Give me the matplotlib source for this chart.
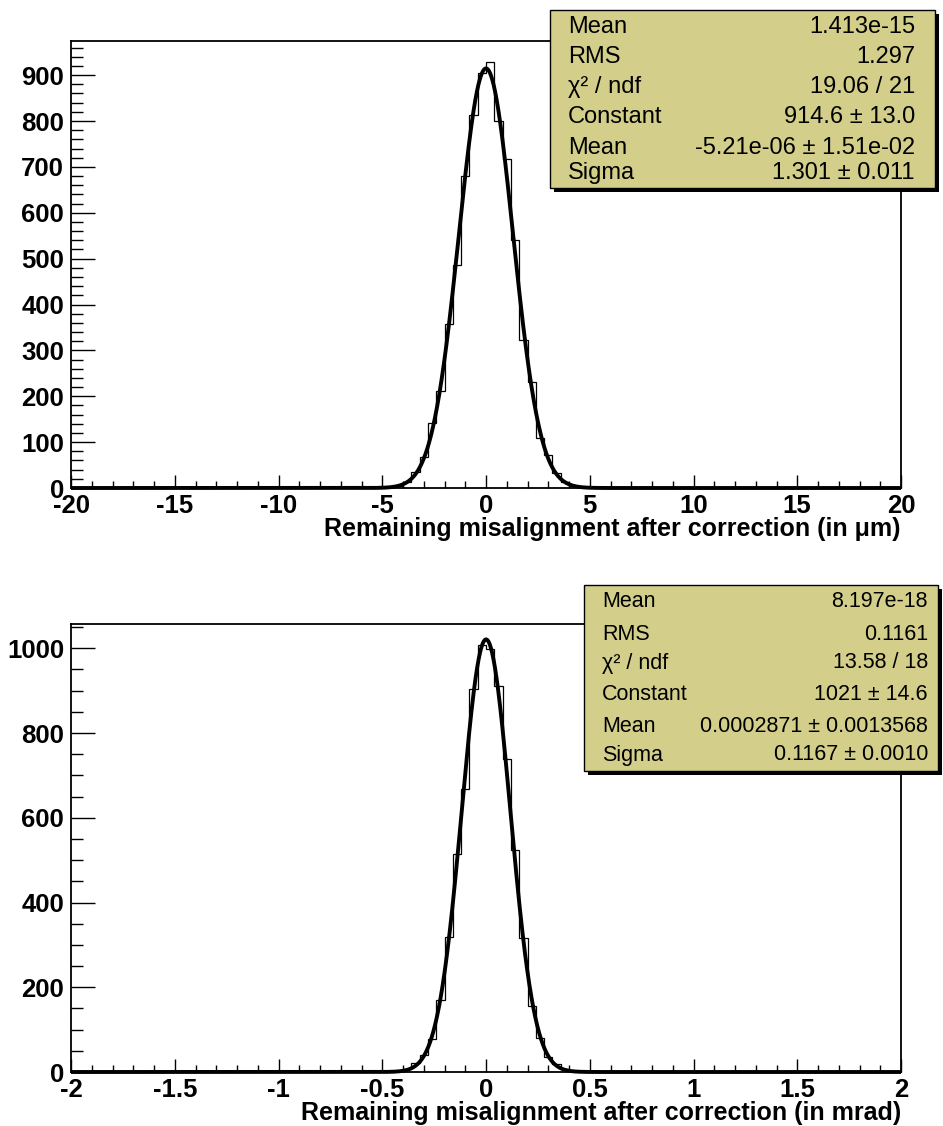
import matplotlib
matplotlib.use("Agg")
import matplotlib.pyplot as plt
import numpy as np
from matplotlib.patches import Rectangle
from matplotlib.ticker import MultipleLocator, FuncFormatter

plt.rcParams['font.family'] = ['Liberation Sans', 'DejaVu Sans']
plt.rcParams['axes.unicode_minus'] = False

# top histogram: 100 bins on [-20, 20], non-empty part starts at -4.8
top_range = (-20, 20)
top_first_edge = -4.8
top_counts = [1, 4, 14, 35, 67, 141, 211, 358, 486, 680, 813, 905,
              928, 800, 717, 540, 322, 231, 108, 72, 33, 13, 5, 2, 1]
top_fit = (914.6, -5.21e-06, 1.301)
top_stats = [("Mean", "1.413e-15"), ("RMS", "1.297"), ("χ² / ndf", "19.06 / 21"),
             ("Constant", "914.6 ± 13.0"), ("Mean", "-5.21e-06 ± 1.51e-02"),
             ("Sigma", "1.301 ± 0.011")]
top_xlabel = "Remaining misalignment after correction (in μm)"

# bottom histogram: 100 bins on [-2, 2], non-empty part starts at -0.48
bot_range = (-2, 2)
bot_first_edge = -0.48
bot_counts = [1, 3, 8, 21, 40, 78, 170, 319, 515, 669, 903, 1007,
              998, 911, 738, 525, 317, 156, 80, 36, 18, 7, 3, 1]
bot_fit = (1021, 0.0002871, 0.1167)
bot_stats = [("Mean", "8.197e-18"), ("RMS", "0.1161"), ("χ² / ndf", "13.58 / 18"),
             ("Constant", "1021 ± 14.6"), ("Mean", "0.0002871 ± 0.0013568"),
             ("Sigma", "0.1167 ± 0.0010")]
bot_xlabel = "Remaining misalignment after correction (in mrad)"

W, H = 943, 1126
BOXCOL = '#d3cf8b'

fig = plt.figure(figsize=(W / 100, H / 100), dpi=100)


def fx(px):
    return px / W


def fy(py):
    return 1 - py / H


def draw_panel(rect, rng, first_edge, counts, fit, xlabel, xmaj, xmin, ymaj, ymin):
    ax = fig.add_axes(rect)
    edges = np.linspace(rng[0], rng[1], 101)
    width = edges[1] - edges[0]
    full = np.zeros(100)
    i0 = int(round((first_edge - rng[0]) / width))
    full[i0:i0 + len(counts)] = counts
    ax.stairs(full, edges, color='black', lw=0.9)
    c, m, s = fit
    xs = np.linspace(rng[0], rng[1], 3000)
    ax.plot(xs, c * np.exp(-0.5 * ((xs - m) / s) ** 2), color='black', lw=2.8,
            solid_capstyle='butt', clip_on=False)
    ax.set_xlim(rng)
    ax.set_ylim(0, 1.05 * max(counts))
    ax.xaxis.set_major_locator(MultipleLocator(xmaj))
    ax.xaxis.set_minor_locator(MultipleLocator(xmin))
    ax.yaxis.set_major_locator(MultipleLocator(ymaj))
    ax.yaxis.set_minor_locator(MultipleLocator(ymin))
    ax.xaxis.set_major_formatter(FuncFormatter(lambda v, p: '%g' % v))
    ax.tick_params(axis='x', which='major', direction='in', length=9.5, width=1,
                   labelsize=18.5, pad=4.5)
    ax.tick_params(axis='x', which='minor', direction='in', length=4.7, width=1)
    ax.tick_params(axis='y', which='major', direction='in', length=17, width=1,
                   labelsize=18.5, pad=5)
    ax.tick_params(axis='y', which='minor', direction='in', length=8.5, width=1)
    for lab in ax.get_xticklabels() + ax.get_yticklabels():
        lab.set_fontweight('bold')
    for sp in ax.spines.values():
        sp.set_linewidth(1.3)
    ax.set_xlabel(xlabel, loc='right', fontsize=18, fontweight='bold', labelpad=-1)
    return ax


def draw_stats(x0, y0, x1, y1, rows, lx, rx, ys, fs):
    shadow = Rectangle((fx(x0 + 4), fy(y1 + 4)), fx(x1 - x0), (y1 - y0) / H,
                       transform=fig.transFigure, facecolor='black', edgecolor='none', zorder=5)
    box = Rectangle((fx(x0), fy(y1)), fx(x1 - x0), (y1 - y0) / H,
                    transform=fig.transFigure, facecolor=BOXCOL, edgecolor='black',
                    lw=1, zorder=6)
    fig.add_artist(shadow)
    fig.add_artist(box)
    for (lab, val), yy in zip(rows, ys):
        fig.text(fx(lx), fy(yy), lab, fontsize=fs, ha='left', va='center', zorder=7)
        fig.text(fx(rx), fy(yy), val, fontsize=fs, ha='right', va='center', zorder=7)


draw_panel([fx(71), fy(488), fx(901 - 71), (488 - 41) / H], top_range, top_first_edge,
           top_counts, top_fit, top_xlabel, 5, 1, 100, 20)
draw_panel([fx(71), fy(1072), fx(901 - 71), (1072 - 624) / H], bot_range, bot_first_edge,
           bot_counts, bot_fit, bot_xlabel, 0.5, 0.1, 200, 50)

draw_stats(550, 10, 935, 188, top_stats, 568, 915,
           [26.7, 57.3, 86.7, 117.3, 148.3, 173.3], 17)
draw_stats(584, 585, 938, 771, bot_stats, 602, 928,
           [601.7, 634, 663, 694, 726.7, 755], 15.5)

fig.savefig("out.png", dpi=100)
